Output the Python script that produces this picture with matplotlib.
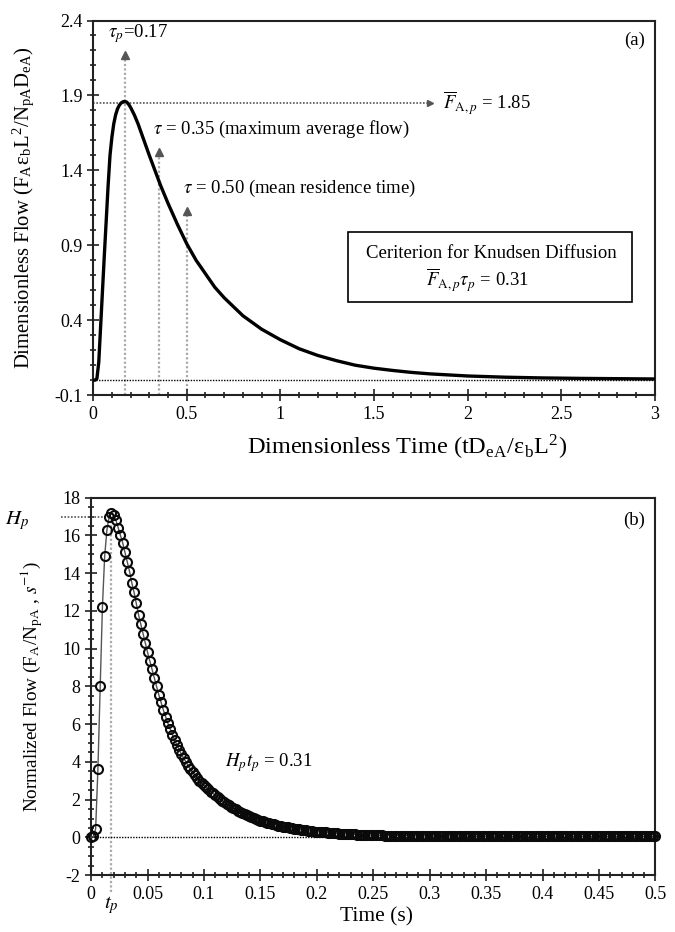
import numpy as np
import matplotlib.pyplot as plt
from matplotlib.patches import Rectangle
from matplotlib.ticker import MultipleLocator

plt.rcParams['font.family'] = ['Liberation Serif', 'DejaVu Serif']
plt.rcParams['mathtext.fontset'] = 'stix'
plt.rcParams['axes.unicode_minus'] = False

# (a) dimensionless flow vs dimensionless time
tau = [0, 0.01, 0.02, 0.03, 0.04, 0.05, 0.06, 0.07, 0.08, 0.09, 0.1, 0.11,
       0.12, 0.13, 0.14, 0.15, 0.16, 0.17, 0.18, 0.19, 0.2, 0.22, 0.24, 0.26,
       0.28, 0.3, 0.33, 0.36, 0.4, 0.45, 0.5, 0.55, 0.6, 0.65, 0.7, 0.8, 0.9,
       1.0, 1.1, 1.2, 1.3, 1.4, 1.5, 1.6, 1.7, 1.8, 2.0, 2.2, 2.4, 2.6, 2.8, 3.0]
flow_dim = [0, 0, 0.01, 0.12, 0.36, 0.6, 0.84, 1.07, 1.3, 1.5, 1.62, 1.71,
            1.77, 1.81, 1.835, 1.85, 1.858, 1.86, 1.855, 1.84, 1.82, 1.77,
            1.71, 1.64, 1.57, 1.5, 1.4, 1.3, 1.18, 1.04, 0.91, 0.8, 0.71,
            0.62, 0.55, 0.43, 0.34, 0.27, 0.21, 0.165, 0.13, 0.1, 0.08, 0.065,
            0.052, 0.042, 0.028, 0.02, 0.015, 0.012, 0.01, 0.008]
tau_marks = [0.17, 0.35, 0.50]
tau_mark_tops = [2.17, 1.52, 1.13]
F_peak = 1.85

# (b) normalized flow, sampled every 2 ms
DT = 0.002
flow_norm = [
    0.0, 0.05, 0.45, 3.6, 8.0, 12.2, 14.9, 16.3, 17.0, 17.2,
    17.1, 16.8, 16.4, 16.0, 15.6, 15.1, 14.6, 14.1, 13.5, 13.0,
    12.4, 11.8, 11.3, 10.8, 10.3, 9.8, 9.35, 8.9, 8.45, 8.0,
    7.55, 7.15, 6.75, 6.4, 6.05, 5.75, 5.45, 5.15, 4.9, 4.65,
    4.4, 4.2, 4.0, 3.8, 3.6, 3.45, 3.3, 3.15, 3.0, 2.88,
    2.76, 2.65, 2.54, 2.43, 2.33, 2.23, 2.13, 2.04, 1.95, 1.87,
    1.79, 1.71, 1.63, 1.56, 1.49, 1.42, 1.36, 1.30, 1.24, 1.18,
    1.12, 1.07, 1.02, 0.97, 0.93, 0.89, 0.85, 0.81, 0.78, 0.75,
    0.72, 0.69, 0.66, 0.63, 0.60, 0.57, 0.55, 0.53, 0.51, 0.49,
    0.47, 0.45, 0.43, 0.41, 0.39, 0.37, 0.36, 0.34, 0.33, 0.31,
    0.30, 0.29, 0.28, 0.27, 0.26, 0.25, 0.24, 0.23, 0.22, 0.21,
    0.20, 0.19, 0.19, 0.18, 0.17, 0.17, 0.16, 0.16, 0.15, 0.15,
    0.14, 0.14, 0.13, 0.13, 0.12, 0.12, 0.12, 0.11, 0.11, 0.11,
    0.10, 0.10, 0.10, 0.10, 0.10, 0.10, 0.09, 0.09, 0.09, 0.09,
    0.09, 0.09, 0.09, 0.08, 0.08, 0.08, 0.08, 0.08, 0.08, 0.08,
    0.08, 0.08, 0.07, 0.07, 0.07, 0.07, 0.07, 0.07, 0.07, 0.07,
    0.07, 0.07, 0.07, 0.07, 0.07, 0.06, 0.06, 0.06, 0.06, 0.06,
    0.06, 0.06, 0.06, 0.06, 0.06, 0.06, 0.06, 0.06, 0.06, 0.06,
    0.06, 0.06, 0.06, 0.06, 0.06, 0.06, 0.06, 0.05, 0.05, 0.05,
    0.05, 0.05, 0.05, 0.05, 0.05, 0.05, 0.05, 0.05, 0.05, 0.05,
    0.05, 0.05, 0.05, 0.05, 0.05, 0.05, 0.05, 0.05, 0.05, 0.05,
    0.05, 0.05, 0.05, 0.05, 0.05, 0.05, 0.05, 0.05, 0.05, 0.05,
    0.05, 0.05, 0.05, 0.05, 0.05, 0.05, 0.05, 0.05, 0.05, 0.05,
    0.05, 0.05, 0.05, 0.05, 0.05, 0.05, 0.05, 0.05, 0.05, 0.05,
    0.05, 0.05, 0.05, 0.05, 0.05, 0.05, 0.05, 0.05, 0.05, 0.05,
    0.05,
]
t_sec = np.arange(len(flow_norm)) * DT
H_p = 17.0
t_p = 0.018


def style_axes(ax):
    for s in ax.spines.values():
        s.set_linewidth(1.5)
        s.set_color('#222222')
    ax.tick_params(which='both', direction='inout', top=False, right=False,
                   labelsize=13, width=1.3, color='#333333')
    ax.tick_params(which='major', length=8)
    ax.tick_params(which='minor', length=5)


fig = plt.figure(figsize=(6.75, 9.32), dpi=100)

# ---- panel (a)
ax1 = fig.add_axes([0.138, 0.576, 0.832, 0.402])
ax1.plot(tau, flow_dim, color='black', lw=2.4, zorder=5)
ax1.axhline(0, color='black', lw=1, ls=(0, (1, 1)), zorder=2)
for x, top in zip(tau_marks, tau_mark_tops):
    ax1.plot([x, x], [-0.1, top], color='#aaaaaa', lw=1.6, ls=(0, (1, 1)), zorder=1)
    ax1.plot(x, top, marker='^', color='#555555', ms=5.5, zorder=6)
ax1.plot([0, 1.79], [F_peak, F_peak], color='#555555', lw=1.2, ls=(0, (1, 1)), zorder=2)
ax1.plot(1.8, F_peak, marker='>', color='#555555', ms=5, zorder=6)

ax1.text(0.08, 2.31, r'$\tau_p$=0.17', fontsize=13.5, va='center')
ax1.text(0.32, 1.67, r'$\tau$ = 0.35 (maximum average flow)', fontsize=13.5, va='center')
ax1.text(0.48, 1.28, r'$\tau$ = 0.50 (mean residence time)', fontsize=13.5, va='center')
ax1.text(1.87, F_peak, r'$\overline{F}_{\mathrm{A},p}$ = 1.85', fontsize=13.5, va='center')
ax1.text(2.95, 2.27, '(a)', fontsize=13.5, ha='right', va='center')
ax1.add_patch(Rectangle((1.36, 0.52), 1.52, 0.467, fill=False, ec='black', lw=1.2))
ax1.text(2.125, 0.847, 'Ceriterion for Knudsen Diffusion', fontsize=13.5,
         ha='center', va='center')
ax1.text(2.055, 0.667, r'$\overline{F}_{\mathrm{A},p}\tau_p$ = 0.31', fontsize=13.5,
         ha='center', va='center')

ax1.set_xlim(0, 3)
ax1.set_ylim(-0.1, 2.4)
ax1.set_xticks([0, 0.5, 1, 1.5, 2, 2.5, 3])
ax1.set_xticklabels(['0', '0.5', '1', '1.5', '2', '2.5', '3'])
ax1.set_yticks([-0.1, 0.4, 0.9, 1.4, 1.9, 2.4])
ax1.xaxis.set_minor_locator(MultipleLocator(0.1))
ax1.yaxis.set_minor_locator(MultipleLocator(0.1))
style_axes(ax1)
ax1.set_xlabel(r'Dimensionless Time (tD$_{\mathregular{eA}}$/ε$_{\mathregular{b}}$L$^{\mathregular{2}}$)',
               fontsize=17.5)
ax1.xaxis.set_label_coords(0.56, -0.1)
ax1.set_ylabel(r'Dimensionless Flow (F$_{\mathregular{A}}$ε$_{\mathregular{b}}$L$^{\mathregular{2}}$'
               r'/N$_{\mathregular{pA}}$D$_{\mathregular{eA}}$)', fontsize=14.9)
ax1.yaxis.set_label_coords(-0.1, 0.5)

# ---- panel (b)
ax2 = fig.add_axes([0.135, 0.061, 0.836, 0.405])
ax2.plot(t_sec, flow_norm, color='#555555', lw=1, marker='o', ms=6.5,
         mfc='none', mec='#0a0a0a', mew=1.5, zorder=5, clip_on=False)
ax2.axhline(0, color='black', lw=1, ls=(0, (1, 1)), zorder=2)
ax2.plot([-0.027, t_p], [H_p, H_p], color='#555555', lw=1.2, ls=(0, (1, 1)),
         clip_on=False, zorder=2)
ax2.plot([t_p, t_p], [-2.9, H_p], color='#aaaaaa', lw=1.6, ls=(0, (1, 1)),
         clip_on=False, zorder=1)
ax2.text(-0.066, 16.8, '$H_p$', fontsize=15, ha='center', va='center')
ax2.text(0.0177, -3.6, '$t_p$', fontsize=15, ha='center', va='center')
ax2.text(0.119, 3.98, '$H_pt_p$ = 0.31', fontsize=13.5, va='center')
ax2.text(0.491, 16.8, '(b)', fontsize=13.5, ha='right', va='center')

ax2.set_xlim(0, 0.5)
ax2.set_ylim(-2, 18)
ax2.set_xticks(np.arange(0, 0.501, 0.05))
ax2.set_xticklabels(['0', '0.05', '0.1', '0.15', '0.2', '0.25', '0.3', '0.35',
                     '0.4', '0.45', '0.5'])
ax2.set_yticks(np.arange(-2, 18.1, 2))
ax2.xaxis.set_minor_locator(MultipleLocator(0.01))
ax2.yaxis.set_minor_locator(MultipleLocator(0.5))
style_axes(ax2)
ax2.set_xlabel('Time (s)', fontsize=15.5)
ax2.xaxis.set_label_coords(0.505, -0.085)
ax2.set_ylabel(r'Normalized Flow (F$_{\mathregular{A}}$/N$_{\mathregular{pA}}$ , $s^{-1}$)',
               fontsize=13.8)
ax2.yaxis.set_label_coords(-0.082, 0.5)

fig.savefig('out.png', dpi=100)
